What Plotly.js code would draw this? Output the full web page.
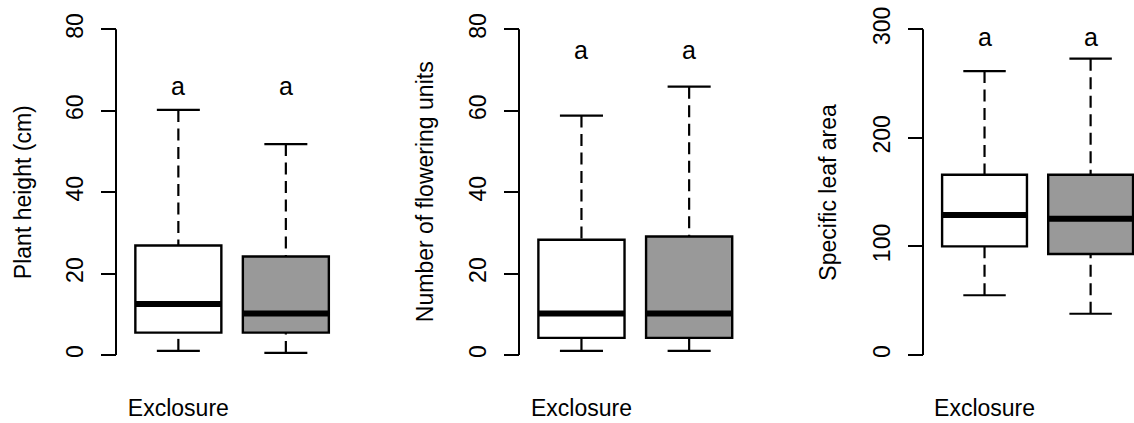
<!DOCTYPE html>
<html>
<head>
<meta charset="utf-8">
<script src="https://cdn.plot.ly/plotly-3.0.1.min.js"></script>
<style>html,body{margin:0;padding:0;background:#fff;}#chart{width:1134px;height:423px;}</style>
</head>
<body>
<div id="chart"></div>
<script>
// ---------- data ----------
const groups = ['Exclosure', ''];

const heightLower  = [1.0, 0.5];
const heightQ1     = [5.5, 5.5];
const heightMedian = [12.5, 10.2];
const heightQ3     = [26.9, 24.2];
const heightUpper  = [60.2, 51.8];

const flowerLower  = [1.0, 1.0];
const flowerQ1     = [4.2, 4.2];
const flowerMedian = [10.2, 10.2];
const flowerQ3     = [28.3, 29.1];
const flowerUpper  = [58.8, 65.9];

const slaLower  = [55, 38];
const slaQ1     = [100, 93];
const slaMedian = [129, 125.5];
const slaQ3     = [166, 166];
const slaUpper  = [261.5, 273];

const yTitles = ['Plant height (cm)', 'Number of flowering units', 'Specific leaf area'];
const yTicksCount = [0, 20, 40, 60, 80];
const yTicksSla = [0, 100, 200, 300];
const letters = [['a', 'a'], ['a', 'a'], ['a', 'a']];
const letterY = [66, 75, 293];

// ---------- styling / layout ----------
const boxColors = ['#ffffff', '#999999'];
const ink = '#000000';
const fontFam = 'Liberation Sans, Arial, sans-serif';

const panels = [
  {lower: heightLower, q1: heightQ1, med: heightMedian, q3: heightQ3, upper: heightUpper, ticks: yTicksCount},
  {lower: flowerLower, q1: flowerQ1, med: flowerMedian, q3: flowerQ3, upper: flowerUpper, ticks: yTicksCount},
  {lower: slaLower,    q1: slaQ1,    med: slaMedian,    q3: slaQ3,    upper: slaUpper,    ticks: yTicksSla}
];
const W = 1134, H = 423;
const domainsPx = [[116, 348.2], [519, 751.6], [923, 1134]];
const titleXPx = [23, 425, 828.5];
const xRanges = [[0.42, 2.58], [0.42, 2.58], [0.42, 2.409]];
const yDomain = [1 - 368 / H, 1 - 16.3 / H];
const boxWidth = 0.8, capHalf = 0.2;

const traces = [];
const shapes = [];
const annotations = [];
const layout = {
  width: W, height: H,
  margin: {l: 0, r: 0, t: 0, b: 0},
  paper_bgcolor: '#fff', plot_bgcolor: '#fff',
  showlegend: false,
  font: {family: fontFam, color: ink},
  hovermode: false
};

panels.forEach((p, i) => {
  const sfx = i === 0 ? '' : String(i + 1);
  const xa = 'x' + sfx, ya = 'y' + sfx;
  const t0 = p.ticks[0], tN = p.ticks[p.ticks.length - 1];
  const pad = 0.04 * (tN - t0);
  const left = domainsPx[i][0] / W;

  layout['xaxis' + sfx] = {
    domain: [left, domainsPx[i][1] / W],
    range: xRanges[i],
    anchor: ya,
    automargin: false,
    showgrid: false, zeroline: false, showline: false,
    ticks: '', tickmode: 'array',
    tickvals: groups.map((g, k) => k + 1),
    ticktext: groups,
    tickfont: {size: 23, family: fontFam, color: ink},
    ticklabelstandoff: 24,
    fixedrange: true
  };
  layout['yaxis' + sfx] = {
    domain: yDomain,
    range: [t0 - pad, tN + pad],
    anchor: 'free', position: left,
    automargin: false,
    showgrid: false, zeroline: false, showline: false,
    ticks: 'outside', ticklen: 15, tickwidth: 2, tickcolor: ink,
    tickmode: 'array', tickvals: p.ticks,
    tickangle: -90,
    tickfont: {size: 23, family: fontFam, color: ink},
    ticklabelstandoff: 9,
    fixedrange: true
  };
  // y-axis title (R-style placement)
  annotations.push({xref: 'paper', yref: 'paper', x: titleXPx[i] / W, y: (yDomain[0] + yDomain[1]) / 2,
    text: yTitles[i], textangle: -90, showarrow: false, xanchor: 'center', yanchor: 'middle',
    font: {size: 23, family: fontFam, color: ink}});
  // R-style axis line from first to last tick
  shapes.push({type: 'line', xref: 'paper', yref: ya, x0: left, x1: left, y0: t0, y1: tN,
               line: {color: ink, width: 2}});

  groups.forEach((g, k) => {
    const cx = k + 1;
    traces.push({
      type: 'box', xaxis: xa, yaxis: ya,
      x: [cx], q1: [p.q1[k]], median: [p.med[k]], q3: [p.q3[k]],
      lowerfence: [p.q1[k]], upperfence: [p.q3[k]],
      width: boxWidth, whiskerwidth: 0, boxpoints: false,
      fillcolor: boxColors[k], line: {color: ink, width: 2.4},
      hoverinfo: 'skip'
    });
    // dashed whiskers (from cap to box)
    [[p.upper[k], p.q3[k]], [p.lower[k], p.q1[k]]].forEach(seg => {
      traces.push({type: 'scatter', mode: 'lines', xaxis: xa, yaxis: ya,
        x: [cx, cx], y: seg, line: {color: ink, width: 2.2, dash: '12px,6.5px'}, hoverinfo: 'skip'});
    });
    // staples
    [p.upper[k], p.lower[k]].forEach(v => {
      traces.push({type: 'scatter', mode: 'lines', xaxis: xa, yaxis: ya,
        x: [cx - capHalf, cx + capHalf], y: [v, v], line: {color: ink, width: 2.2}, hoverinfo: 'skip'});
    });
    // thick median
    traces.push({type: 'scatter', mode: 'lines', xaxis: xa, yaxis: ya,
      x: [cx - boxWidth / 2, cx + boxWidth / 2], y: [p.med[k], p.med[k]],
      line: {color: ink, width: 6}, hoverinfo: 'skip'});
    // significance letters
    annotations.push({xref: xa, yref: ya, x: cx, y: letterY[i], text: letters[i][k],
      showarrow: false, xanchor: 'center', yanchor: 'middle',
      font: {size: 25, family: fontFam, color: ink}});
  });
});

layout.shapes = shapes;
layout.annotations = annotations;

Plotly.newPlot('chart', traces, layout, {staticPlot: true, displayModeBar: false});
</script>
</body>
</html>
